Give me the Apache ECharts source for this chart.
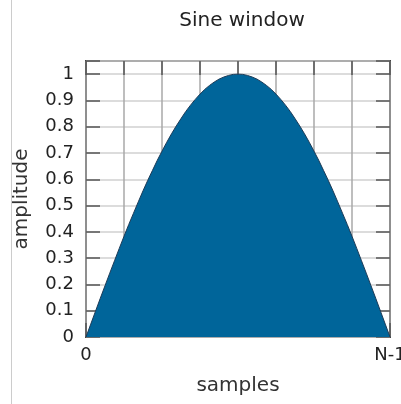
<!DOCTYPE html>
<html>
<head>
<meta charset="utf-8">
<script src="https://cdn.jsdelivr.net/npm/echarts@6/dist/echarts.min.js"></script>
<style>
  html, body { margin: 0; padding: 0; background: #ffffff; }
  #chart { width: 401px; height: 404px; }
</style>
</head>
<body>
<div id="chart"></div>
<script>
// amplitude, one value per sample, 0 .. N-1 (drawn as 0 .. 64)
const amplitude = [
  0, 0.049, 0.098, 0.147, 0.195, 0.243, 0.29, 0.337, 0.383, 0.428, 0.471, 0.514, 0.556, 0.596, 0.634, 0.672,
  0.707, 0.741, 0.773, 0.803, 0.831, 0.858, 0.882, 0.904, 0.924, 0.942, 0.957, 0.97, 0.981, 0.989, 0.995, 0.999,
  1,
  0.999, 0.995, 0.989, 0.981, 0.97, 0.957, 0.942, 0.924, 0.904, 0.882, 0.858, 0.831, 0.803, 0.773, 0.741,
  0.707, 0.672, 0.634, 0.596, 0.556, 0.514, 0.471, 0.428, 0.383, 0.337, 0.29, 0.243, 0.195, 0.147, 0.098, 0.049, 0
];
const xTickLabels = { 0: '0', 64: 'N-1' };

let chart = echarts.init(document.getElementById('chart'));

const font = 'DejaVu Sans';
const ticks = () => ({ show: true, inside: true, length: 14, lineStyle: { color: '#555', width: 1.5 } });
const noLine = () => ({ show: false, onZero: false });

chart.setOption({
  animation: false,
  title: {
    text: 'Sine window',
    left: 237,
    textAlign: 'center',
    top: 6,
    textStyle: { fontFamily: font, fontSize: 20, fontWeight: 'normal', color: '#222' }
  },
  graphic: [{
    type: 'line',
    shape: { x1: 11.5, y1: 0, x2: 11.5, y2: 404 },
    style: { stroke: '#cccccc', lineWidth: 1 }
  }],
  grid: {
    left: 86, right: 11, top: 61, bottom: 67,
    outerBoundsMode: 'none',
    show: true, borderColor: '#444', borderWidth: 2
  },
  xAxis: [{
    type: 'value',
    min: 0, max: 64, interval: 8,
    name: 'samples',
    nameLocation: 'middle',
    nameGap: 39,
    nameTextStyle: { fontFamily: font, fontSize: 20, color: '#333' },
    axisLine: noLine(),
    axisTick: ticks(),
    axisLabel: {
      fontFamily: font, fontSize: 18, color: '#222', margin: 9,
      showMinLabel: true, showMaxLabel: true,
      formatter: v => xTickLabels[v] || ''
    },
    splitLine: { show: true, lineStyle: { color: '#a8a8a8', width: 1.5 } }
  }, {
    type: 'value', position: 'top',
    min: 0, max: 64, interval: 8,
    axisLine: noLine(),
    axisTick: ticks(),
    axisLabel: { show: false },
    splitLine: { show: false }
  }],
  yAxis: [{
    type: 'value',
    min: 0, max: 1.05, interval: 0.1,
    name: 'amplitude',
    nameLocation: 'middle',
    nameGap: 54,
    nameTextStyle: { fontFamily: font, fontSize: 20, color: '#333' },
    axisLine: noLine(),
    axisTick: ticks(),
    axisLabel: {
      fontFamily: font, fontSize: 18, color: '#222', margin: 12,
      formatter: v => (v > 1.001 ? '' : String(Math.round(v * 10) / 10))
    },
    splitLine: { show: true, lineStyle: { color: '#d0d0d0', width: 1.5 } }
  }, {
    type: 'value', position: 'right',
    min: 0, max: 1.05, interval: 0.1,
    axisLine: noLine(),
    axisTick: ticks(),
    axisLabel: { show: false },
    splitLine: { show: false }
  }],
  series: [{
    type: 'line',
    data: amplitude.map((a, i) => [i, a]),
    showSymbol: false,
    lineStyle: { color: '#1d3b57', width: 1 },
    areaStyle: { color: '#00659a', opacity: 1 },
    z: 3
  }]
});
</script>
</body>
</html>
